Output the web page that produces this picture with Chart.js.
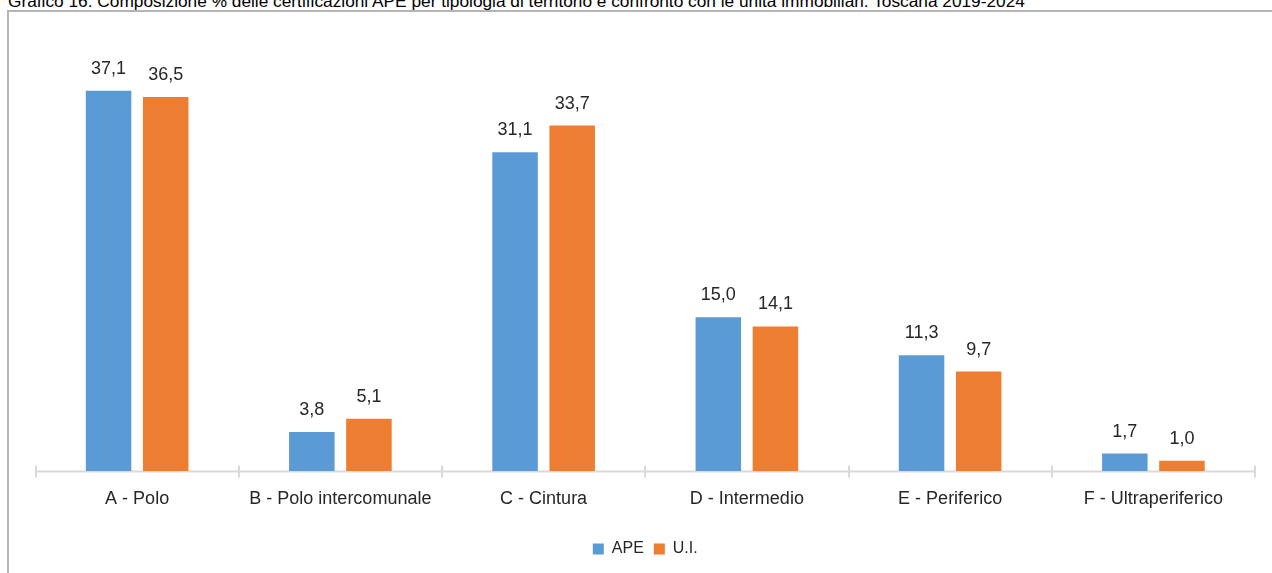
<!DOCTYPE html>
<html lang="it">
<head>
<meta charset="utf-8">
<title>Grafico 16</title>
<script src="https://cdn.jsdelivr.net/npm/chart.js@4.4.1/dist/chart.umd.min.js"></script>
<style>
  html, body { margin: 0; padding: 0; background: #fff; overflow: hidden; }
  #wrap { position: relative; width: 1272px; height: 573px; }
  #frame {
    position: absolute; left: 7px; top: 10px; width: 1300px; height: 600px;
    border-left: 2px solid #b4b4b4; border-top: 2px solid #b4b4b4;
  }
  #title {
    position: absolute; left: 8px; top: -8px; white-space: nowrap;
    font: 17.3px/18px 'Liberation Sans', Arial, sans-serif; color: #000;
  }
  #myChart { position: absolute; left: 0; top: 0; }
</style>
</head>
<body>
<div id="wrap">
  <div id="frame"></div>
  <div id="title">Grafico 16: Composizione % delle certificazioni APE per tipologia di territorio e confronto con le unità immobiliari:  Toscana 2019-2024</div>
  <canvas id="myChart" width="1272" height="573"></canvas>
</div>
<script>
const categories = ['A - Polo', 'B - Polo intercomunale', 'C - Cintura', 'D - Intermedio', 'E - Periferico', 'F - Ultraperiferico'];
const apeValues = [37.1, 3.8, 31.1, 15.0, 11.3, 1.7];
const uiValues = [36.5, 5.1, 33.7, 14.1, 9.7, 1.0];
const seriesNames = ['APE', 'U.I.'];

const textColor = '#262626';
Chart.defaults.font.family = "'Liberation Sans', Arial, sans-serif";
Chart.defaults.color = textColor;

// axis line with small crossing ticks between categories
const axisLine = {
    id: 'axisLine',
    beforeDatasetsDraw(chart) {
        const ctx = chart.ctx;
        const x = chart.scales.x;
        const y = chart.chartArea.bottom + 0.5;
        const step = (x.right - x.left) / categories.length;
        ctx.save();
        ctx.strokeStyle = '#d9d9d9';
        ctx.lineWidth = 2;
        ctx.beginPath();
        ctx.moveTo(x.left, y);
        ctx.lineTo(x.right, y);
        for (let i = 0; i <= categories.length; i++) {
            const px = Math.round(x.left + i * step);
            ctx.moveTo(px, y - 6);
            ctx.lineTo(px, y + 6);
        }
        ctx.stroke();
        ctx.restore();
    }
};

// value above each bar, italian decimal comma
const barValues = {
    id: 'barValues',
    afterDatasetsDraw(chart) {
        const ctx = chart.ctx;
        ctx.save();
        ctx.font = "18px 'Liberation Sans', Arial, sans-serif";
        ctx.fillStyle = textColor;
        ctx.textAlign = 'center';
        ctx.textBaseline = 'alphabetic';
        chart.data.datasets.forEach((ds, i) => {
            chart.getDatasetMeta(i).data.forEach((bar, j) => {
                ctx.fillText(ds.data[j].toFixed(1).replace('.', ','), bar.x, bar.y - 17);
            });
        });
        ctx.restore();
    }
};

const data = {
    labels: categories,
    datasets: [{
        label: seriesNames[0],
        data: apeValues,
        backgroundColor: '#5b9bd5',
        categoryPercentage: 0.562,
        barPercentage: 0.797
    }, {
        label: seriesNames[1],
        data: uiValues,
        backgroundColor: '#ed7d31',
        categoryPercentage: 0.562,
        barPercentage: 0.797
    }]
};

const config = {
    type: 'bar',
    data: data,
    options: {
        responsive: false,
        animation: false,
        layout: { padding: { top: 61, left: 35.5, right: 17, bottom: 6 } },
        plugins: {
            legend: {
                position: 'bottom',
                labels: { boxWidth: 11, boxHeight: 11, padding: 10, font: { size: 16 }, color: textColor }
            },
            tooltip: { enabled: false }
        },
        scales: {
            x: {
                grid: { display: false },
                border: { display: false },
                ticks: { padding: 9, font: { size: 18 }, color: textColor, maxRotation: 0 },
                afterFit(scale) { scale.height = 60; }
            },
            y: {
                display: false,
                min: 0,
                max: 40
            }
        }
    },
    plugins: [axisLine, barValues]
};

const chartArea = document.getElementById('myChart');
const forecast_chart = new Chart(chartArea, config);
</script>
</body>
</html>
